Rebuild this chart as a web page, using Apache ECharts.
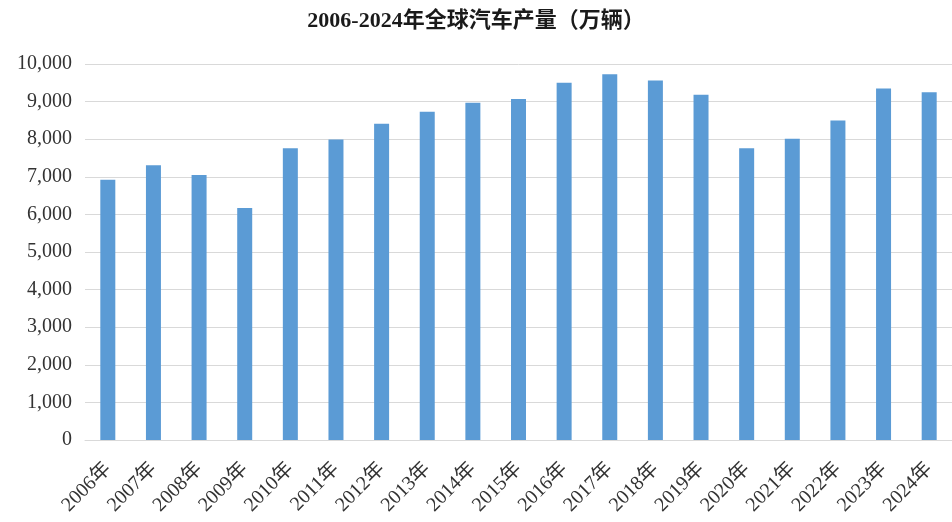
<!DOCTYPE html>
<html>
<head>
<meta charset="utf-8">
<script src="https://cdn.jsdelivr.net/npm/echarts@6/dist/echarts.min.js"></script>
<style>
  html, body { margin: 0; padding: 0; background: #fff; }
  #chart { width: 952px; height: 522px; }
</style>
</head>
<body>
<div id="chart"></div>
<script>
// Global vehicle production by year, in units of 10,000 vehicles
const years = ['2006年', '2007年', '2008年', '2009年', '2010年', '2011年', '2012年', '2013年', '2014年', '2015年',
               '2016年', '2017年', '2018年', '2019年', '2020年', '2021年', '2022年', '2023年', '2024年'];
const production = [6920, 7310, 7050, 6170, 7760, 7990, 8410, 8730, 8970, 9070,
                    9500, 9730, 9560, 9180, 7760, 8010, 8500, 9350, 9250];
const yMax = 10000;
const yStep = 1000;

const serif = '"Liberation Serif", "Times New Roman", "Noto Sans CJK SC", serif';

const chart = echarts.init(document.getElementById('chart'));
chart.setOption({
  animation: false,
  title: {
    text: '2006-2024年全球汽车产量（万辆）',
    left: 'center',
    top: 5,
    textStyle: { fontFamily: serif, fontSize: 22, fontWeight: 'bold', color: '#1a1a1a' }
  },
  grid: { left: 85, right: 0, top: 64, bottom: 82 },
  xAxis: {
    type: 'category',
    data: years,
    axisTick: { show: false },
    axisLine: { lineStyle: { color: '#d9d9d9' } },
    axisLabel: {
      rotate: 45,
      interval: 0,
      margin: 26,
      fontFamily: serif,
      fontSize: 20,
      color: '#333'
    }
  },
  yAxis: {
    type: 'value',
    min: 0,
    max: yMax,
    interval: yStep,
    axisLine: { show: false },
    axisTick: { show: false },
    splitLine: { lineStyle: { color: '#d9d9d9' } },
    axisLabel: {
      margin: 13,
      fontFamily: serif,
      fontSize: 20,
      color: '#333',
      formatter: v => v.toLocaleString('en-US')
    }
  },
  series: [{
    type: 'bar',
    data: production,
    barWidth: 15,
    itemStyle: { color: '#5b9bd5' }
  }]
});
</script>
</body>
</html>
